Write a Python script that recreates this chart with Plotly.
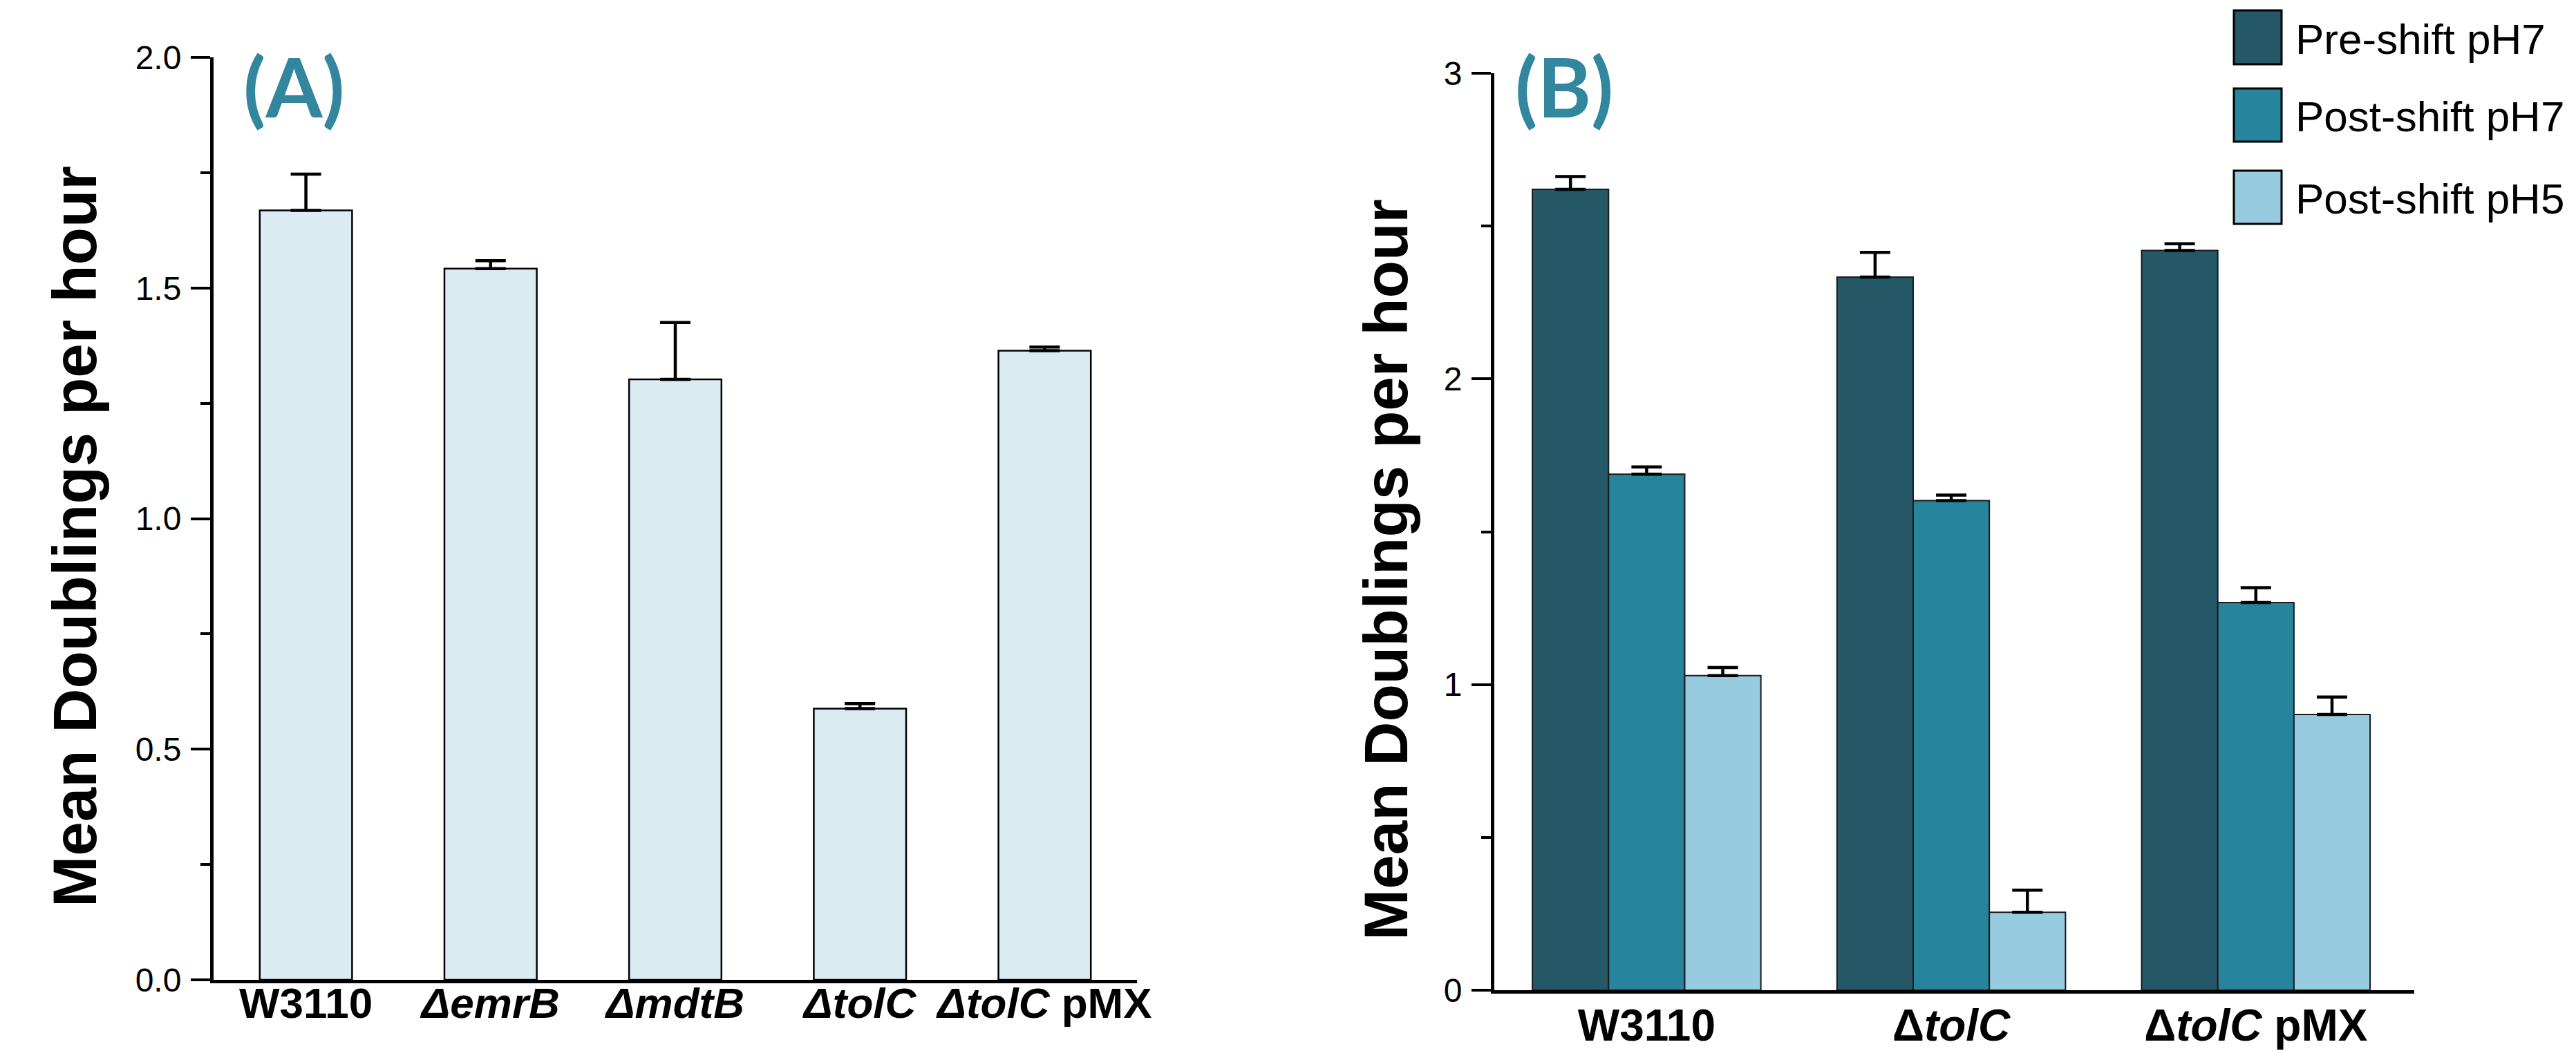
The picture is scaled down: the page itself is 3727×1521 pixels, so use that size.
import plotly.graph_objects as go

# ---------------- data ----------------
strains_a = ["W3110", "ΔemrB", "ΔmdtB", "ΔtolC", "ΔtolC pMX"]
labels_a = ["<b>W3110</b>", "<b><i>ΔemrB</i></b>", "<b><i>ΔmdtB</i></b>",
            "<b><i>ΔtolC</i></b>", "<b><i>ΔtolC</i> pMX</b>"]
mean_a = [1.668, 1.542, 1.302, 0.588, 1.364]
err_a = [0.079, 0.017, 0.123, 0.011, 0.008]

strains_b = ["W3110", "ΔtolC", "ΔtolC pMX"]
labels_b = ["<b>W3110</b>", "<b>Δ<i>tolC</i></b>", "<b>Δ<i>tolC</i> pMX</b>"]
series_names = ["Pre-shift pH7", "Post-shift pH7", "Post-shift pH5"]
pre_ph7 = [2.620, 2.333, 2.420]
pre_ph7_err = [0.042, 0.081, 0.022]
post_ph7 = [1.688, 1.602, 1.268]
post_ph7_err = [0.024, 0.018, 0.049]
post_ph5 = [1.029, 0.255, 0.902]
post_ph5_err = [0.027, 0.072, 0.057]

ticks_a = [0.0, 0.5, 1.0, 1.5, 2.0]
ticks_b = [0, 1, 2, 3]

# ---------------- styling ----------------
W, H = 3727, 1521
def px(x):
    return x / W
def py(y):
    return 1 - y / H

ARIAL = "Liberation Sans"
colors_b = ["#255866", "#27849d", "#97cce0"]
fill_a = "#daebf2"
teal = "#32879f"

fig = go.Figure()

fig.add_trace(go.Bar(
    x=strains_a, y=mean_a, width=0.5,
    marker=dict(color=fill_a, line=dict(color="black", width=2.5)),
    error_y=dict(type="data", array=err_a, arrayminus=[0] * len(err_a), symmetric=False,
                 color="black", thickness=4.5, width=22),
    xaxis="x", yaxis="y", showlegend=False,
))

b_vals = [pre_ph7, post_ph7, post_ph5]
b_errs = [pre_ph7_err, post_ph7_err, post_ph5_err]
for name, vals, errs, col in zip(series_names, b_vals, b_errs, colors_b):
    fig.add_trace(go.Bar(
        x=strains_b, y=vals, name=name,
        marker=dict(color=col, line=dict(color="#1a1a1a", width=2)),
        error_y=dict(type="data", array=errs, arrayminus=[0] * len(errs), symmetric=False,
                     color="black", thickness=4.5, width=22),
        xaxis="x2", yaxis="y2", showlegend=False,
    ))

yax_common = dict(
    showline=True, linecolor="black", linewidth=5,
    ticks="outside", ticklen=28, tickwidth=4, tickcolor="black",
    tickfont=dict(family=ARIAL, size=48, color="black"),
    showgrid=False, zeroline=False, automargin=False,
)
xax_common = dict(
    showline=True, linecolor="black", linewidth=5,
    ticks="", showgrid=False, zeroline=False, type="category", automargin=False,
)

fig.update_layout(
    width=W, height=H,
    margin=dict(l=0, r=0, t=0, b=0, autoexpand=False),
    paper_bgcolor="white", plot_bgcolor="white",
    barmode="group", bargap=0.25, bargroupgap=0,
    showlegend=False,
    xaxis=dict(domain=[px(309), px(1645)], anchor="y", range=[-0.5, 4.5],
               tickvals=strains_a, ticktext=labels_a,
               tickfont=dict(family=ARIAL, size=62, color="black"),
               ticklabelstandoff=-24, **xax_common),
    yaxis=dict(domain=[py(1418), py(83)], anchor="x", range=[0, 2],
               tickvals=ticks_a, tickformat=".1f", ticklabelstandoff=4,
               minor=dict(dtick=0.25, tick0=0, ticks="outside", ticklen=14,
                          tickwidth=4, tickcolor="black"),
               **yax_common),
    xaxis2=dict(domain=[px(2162), px(3493)], anchor="y2", range=[-0.5, 2.52],
                tickvals=strains_b, ticktext=labels_b,
                tickfont=dict(family=ARIAL, size=64, color="black"),
                ticklabelstandoff=-9, **xax_common),
    yaxis2=dict(domain=[py(1433), py(106)], anchor="x2", range=[0, 3],
                tickvals=ticks_b, ticklabelstandoff=4,
                minor=dict(dtick=0.5, tick0=0, ticks="outside", ticklen=14,
                           tickwidth=4, tickcolor="black"),
                **yax_common),
)

annotations = [
    dict(text="<b>Mean Doublings per hour</b>", textangle=-90,
         x=px(108), y=py(777), xref="paper", yref="paper",
         xanchor="center", yanchor="middle", showarrow=False,
         font=dict(family=ARIAL, size=89, color="black")),
    dict(text="<b>Mean Doublings per hour</b>", textangle=-90,
         x=px(2005), y=py(825), xref="paper", yref="paper",
         xanchor="center", yanchor="middle", showarrow=False,
         font=dict(family=ARIAL, size=89, color="black")),
    dict(text="<b>(A)</b>", x=px(425), y=py(124), xref="paper", yref="paper",
         xanchor="center", yanchor="middle", showarrow=False,
         font=dict(family="Lato", size=118, color=teal)),
    dict(text="<b>(B)</b>", x=px(2263), y=py(124), xref="paper", yref="paper",
         xanchor="center", yanchor="middle", showarrow=False,
         font=dict(family="Lato", size=118, color=teal)),
]

# legend drawn as boxes + labels
leg_rows = [(15, 93), (128, 205), (247, 324)]
shapes = []
for (y0, y1), name, col in zip(leg_rows, series_names, colors_b):
    shapes.append(dict(type="rect", xref="paper", yref="paper",
                       x0=px(3232), x1=px(3301), y0=py(y1), y1=py(y0),
                       fillcolor=col, line=dict(color="black", width=3)))
    annotations.append(dict(text=name, x=px(3319), y=py((y0 + y1) / 2 + 2),
                            xref="paper", yref="paper", xanchor="left", yanchor="middle",
                            showarrow=False,
                            font=dict(family=ARIAL, size=62, color="black")))

fig.update_layout(annotations=annotations, shapes=shapes)

fig.write_html("out.html", config={"displayModeBar": False},
               post_script="document.body.style.margin='0';document.body.style.overflow='hidden';")
